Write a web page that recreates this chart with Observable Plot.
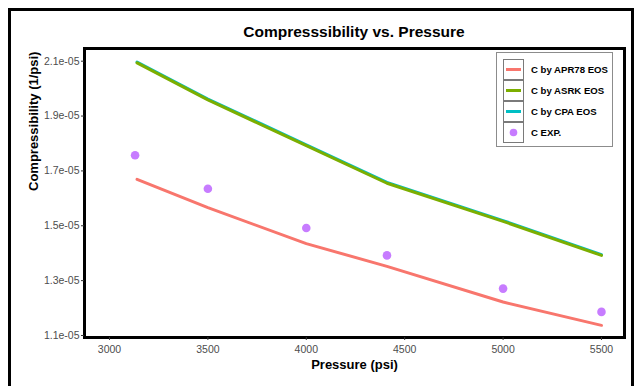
<!DOCTYPE html>
<html>
<head>
<meta charset="utf-8">
<script src="https://cdn.jsdelivr.net/npm/d3@7"></script>
<script src="https://cdn.jsdelivr.net/npm/@observablehq/plot@0.6"></script>
<style>
  html, body { margin: 0; padding: 0; background: #fff; }
  body { font-family: "Liberation Sans", Arial, sans-serif; }
  #wrap { position: relative; width: 634px; height: 386px; overflow: hidden; background: #fff; }
  #outer { position: absolute; left: 8px; top: 8px; width: 620px; height: 600px;
           border-left: 3px solid #000; border-top: 3px solid #000; border-right: 3px solid #000; pointer-events: none; }
  #title { position: absolute; left: 84px; width: 540px; top: 23px; line-height: 18px;
           text-align: center; font-weight: bold; font-size: 15.5px; color: #000; }
  #chart { position: absolute; left: 0; top: 44px; }
  #legend { position: absolute; left: 496px; top: 52px; width: 117px; height: 95px;
            border: 1px solid #8c8c8c; background: #fff; box-sizing: border-box; }
  .row { position: absolute; left: 6px; height: 21px; }
  .key { position: absolute; left: 0; top: 0; width: 21px; height: 21px; box-sizing: border-box;
         border: 1px solid #7a7a7a; background: #fff; }
  .lab { position: absolute; left: 28px; top: 0; line-height: 21px; font-size: 9.6px; font-weight: bold;
         color: #000; white-space: nowrap; }
</style>
</head>
<body>
<div id="wrap">
  <div id="title"></div>
  <div id="chart"></div>
  <div id="legend"></div>
  <div id="outer"></div>
</div>
<script>
// ---- data ----
const titleText = "Compresssibility vs. Pressure";
const xTitle = "Pressure (psi)";
const yTitle = "Compressibility (1/psi)";

const seriesNames = ["C by APR78 EOS", "C by ASRK EOS", "C by CPA EOS", "C EXP."];
const seriesColors = ["#F8766D", "#7CAE00", "#00BFC4", "#C77CFF"];

const linePressure = [3140, 3500, 4000, 4410, 5000, 5500];
const cAPR78 = [1.669e-5, 1.566e-5, 1.435e-5, 1.352e-5, 1.222e-5, 1.137e-5];
const cASRK  = [2.094e-5, 1.959e-5, 1.792e-5, 1.655e-5, 1.516e-5, 1.392e-5];
const cCPA   = [2.097e-5, 1.962e-5, 1.795e-5, 1.658e-5, 1.519e-5, 1.395e-5];

const expPressure = [3130, 3500, 4000, 4410, 5000, 5500];
const cEXP = [1.757e-5, 1.635e-5, 1.492e-5, 1.392e-5, 1.271e-5, 1.186e-5];

const xTicks = [3000, 3500, 4000, 4500, 5000, 5500];
const xTickLabels = ["3000", "3500", "4000", "4500", "5000", "5500"];
const yTicks = [1.1e-5, 1.3e-5, 1.5e-5, 1.7e-5, 1.9e-5, 2.1e-5];
const yTickLabels = ["1.1e-05", "1.3e-05", "1.5e-05", "1.7e-05", "1.9e-05", "2.1e-05"];

// ---- tables built from arrays ----
const mk = (xs, ys, s) => xs.map((x, i) => ({x, y: ys[i], s}));
const lines = [
  ...mk(linePressure, cCPA, seriesNames[2]),
  ...mk(linePressure, cASRK, seriesNames[1]),
  ...mk(linePressure, cAPR78, seriesNames[0])
];
const pts = mk(expPressure, cEXP, seriesNames[3]);

document.getElementById("title").textContent = titleText;

const plot = Plot.plot({
  width: 634,
  height: 342,
  marginLeft: 84,
  marginRight: 10,
  marginTop: 4,
  marginBottom: 49,
  style: {fontFamily: "'Liberation Sans', Arial, sans-serif", fontSize: "10.5px", background: "#fff"},
  x: {domain: [2873, 5617]},
  y: {domain: [1.0927e-5, 2.1463e-5]},
  color: {domain: seriesNames, range: seriesColors},
  marks: [
    Plot.line(lines, {x: "x", y: "y", z: "s", stroke: "s", strokeWidth: 3, curve: "linear"}),
    Plot.dot(pts, {x: "x", y: "y", r: 4.3, fill: "s", stroke: "none"}),
    Plot.frame({stroke: "#000", strokeWidth: 3}),
    Plot.axisX({ticks: xTicks, tickFormat: d => xTickLabels[xTicks.indexOf(d)], tickSize: 3, tickPadding: 5.5,
                stroke: "#333", fill: "#4d4d4d", label: null, fontSize: 10.5}),
    Plot.axisY({ticks: yTicks, tickFormat: d => yTickLabels[yTicks.indexOf(d)], tickSize: 3, tickPadding: 2,
                stroke: "#333", fill: "#4d4d4d", label: null, fontSize: 10.5}),
    Plot.text([xTitle], {text: d => d, frameAnchor: "bottom", dy: 31, fontWeight: "bold", fontSize: 13, fill: "#000"}),
    Plot.text([yTitle], {text: d => d, frameAnchor: "left", rotate: -90, dx: -51, dy: -2, fontWeight: "bold", fontSize: 13, fill: "#000"})
  ]
});
document.getElementById("chart").appendChild(plot);

// ---- legend ----
const legend = d3.select("#legend");
seriesNames.forEach((name, i) => {
  const row = legend.append("div").attr("class", "row").style("top", (6 + i * 21) + "px");
  const key = row.append("div").attr("class", "key");
  const svg = key.append("svg").attr("width", 19).attr("height", 19).style("display", "block");
  if (i < 3) {
    svg.append("line").attr("x1", 2).attr("x2", 17).attr("y1", 9.5).attr("y2", 9.5)
      .attr("stroke", seriesColors[i]).attr("stroke-width", 3);
  } else {
    svg.append("circle").attr("cx", 9.5).attr("cy", 9.5).attr("r", 3.8).attr("fill", seriesColors[i]);
  }
  row.append("div").attr("class", "lab").text(name);
});
</script>
</body>
</html>
